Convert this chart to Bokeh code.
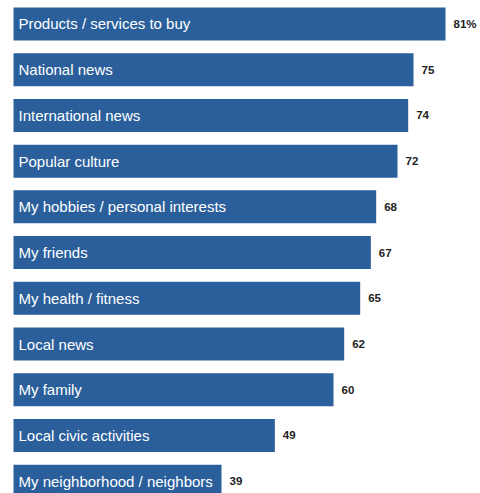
from bokeh.plotting import figure
from bokeh.models import ColumnDataSource, Range1d
from bokeh.embed import file_html
from bokeh.resources import INLINE
from bokeh.core.properties import value

categories = [
    "Products / services to buy",
    "National news",
    "International news",
    "Popular culture",
    "My hobbies / personal interests",
    "My friends",
    "My health / fitness",
    "Local news",
    "My family",
    "Local civic activities",
    "My neighborhood / neighbors",
]
values = [81, 75, 74, 72, 68, 67, 65, 62, 60, 49, 39]
value_labels = ["81%", "75", "74", "72", "68", "67", "65", "62", "60", "49", "39"]

pos = list(range(len(categories)))
src = ColumnDataSource(dict(y=pos, v=values, cat=categories, lab=value_labels,
                            zero=[0] * len(pos)))

p = figure(width=480, height=493, output_backend="svg", toolbar_location=None,
           x_range=Range1d(-2.44, 87.56), y_range=Range1d(10.27, -0.514),
           min_border=0, outline_line_color=None, background_fill_color="white")
p.axis.visible = False
p.grid.visible = False

p.hbar(y="y", right="v", left=0, height=0.722, source=src,
       fill_color="#2a5f9c", line_color=None)

p.text(x="zero", y="y", text="cat", source=src, x_offset=5,
       text_align="left", text_baseline="middle", text_color="white",
       text_font=value("Liberation Sans"), text_font_size="15px")

p.text(x="v", y="y", text="lab", source=src, x_offset=8,
       text_align="left", text_baseline="middle", text_color="#222222",
       text_font=value("Liberation Sans"), text_font_size="11.5px",
       text_font_style="bold")

open("out.html", "w").write(file_html(p, INLINE))
